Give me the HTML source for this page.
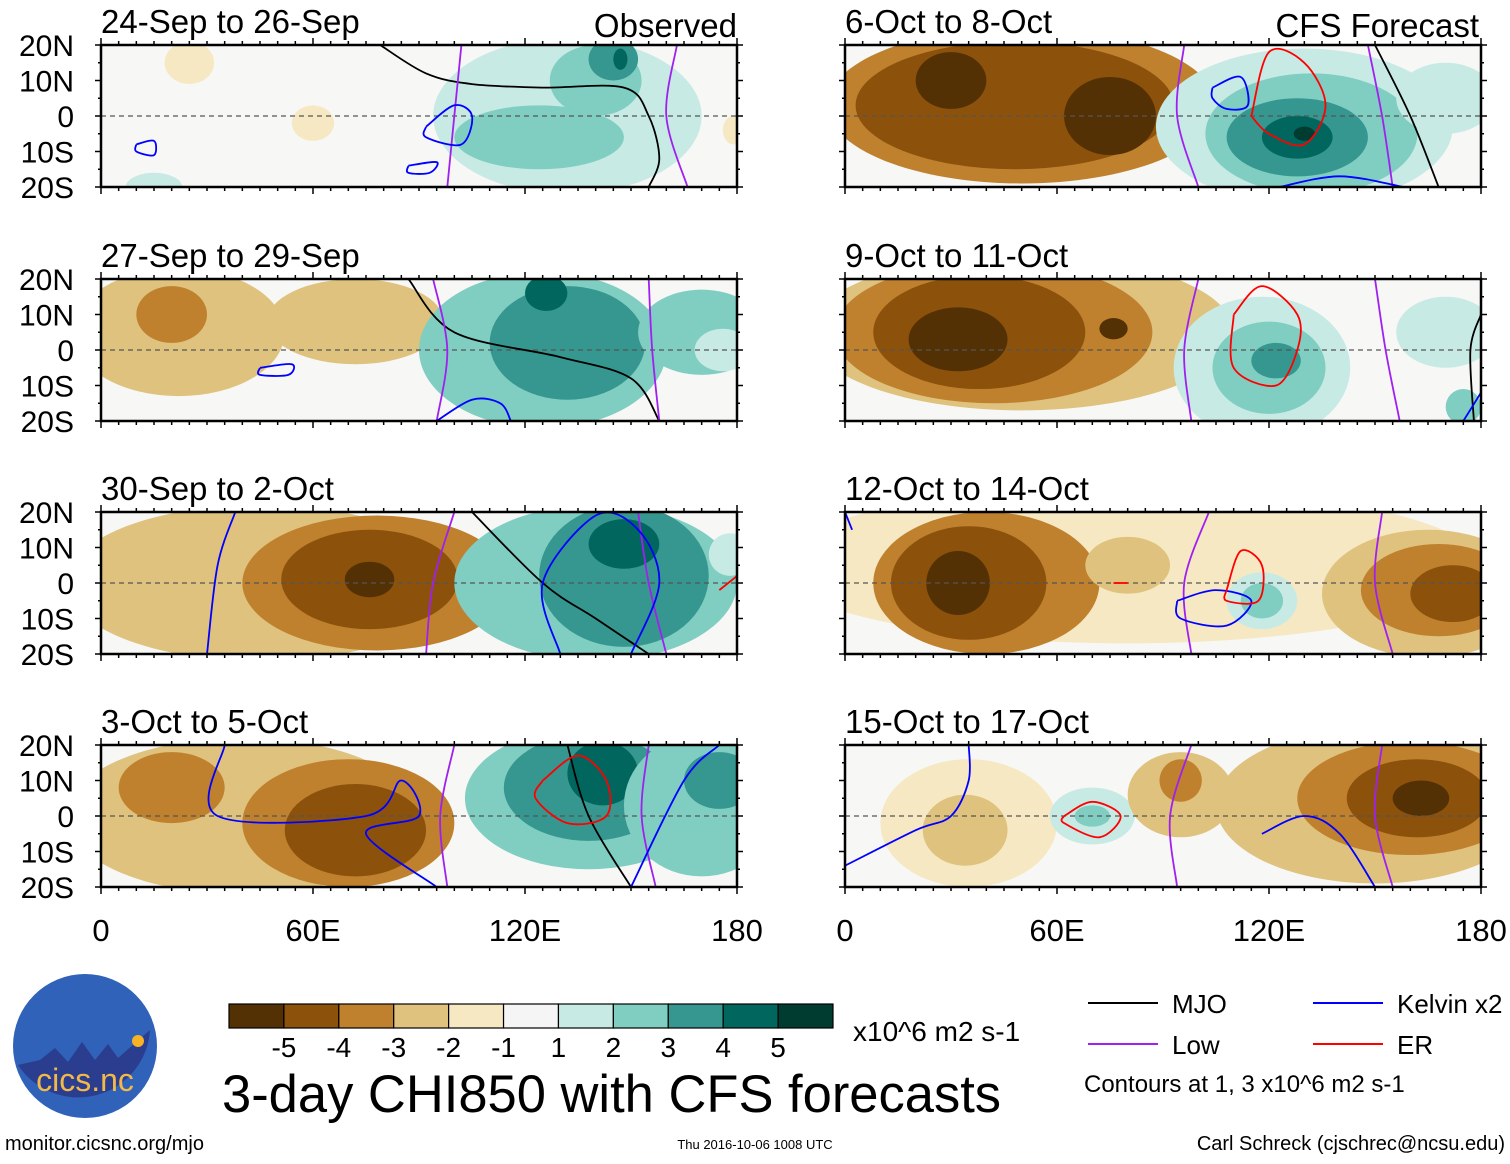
<!DOCTYPE html>
<html><head><meta charset="utf-8">
<style>
html,body{margin:0;padding:0;background:#fff;}
body{width:1510px;height:1159px;overflow:hidden;font-family:"Liberation Sans",Arial,sans-serif;}
svg text{font-family:"Liberation Sans",Arial,sans-serif;}
</style></head><body>
<svg id="chart" width="1510" height="1159" viewBox="0 0 1510 1159" xmlns="http://www.w3.org/2000/svg">
<defs></defs>
</svg>
<script>
// ---- data ----
const levelColors = ["#543005","#8c510a","#bf812d","#dfc27d","#f6e8c3","#f5f5f5","#c7eae5","#80cdc1","#35978f","#01665e","#003c30"];
const levelLabels = ["-5","-4","-3","-2","-1","1","2","3","4","5"];
const panelTitles = ["24-Sep to 26-Sep","27-Sep to 29-Sep","30-Sep to 2-Oct","3-Oct to 5-Oct","6-Oct to 8-Oct","9-Oct to 11-Oct","12-Oct to 14-Oct","15-Oct to 17-Oct"];
const latTicks = ["20N","10N","0","10S","20S"];
const lonTicks = ["0","60E","120E","180"];
// blobs: [lon, lat, rxDeg, ryDeg, amplitude]
const blobs1 = [[25,15,7,6,-1],[60,-2,6,5,-1],[132,0,38,22,1],[124,-6,24,9,2],[140,10,13,10,2],[145,16,7,6,3],[147,16,2,3,4],[15,-20,8,4,1],[179,-4,3,4,-1]];
const blobs2 = [[22,5,30,18,-2],[20,10,10,8,-3],[72,8,25,12,-2],[125,0,35,22,2],[132,2,22,16,3],[126,16,6,5,4],[170,5,18,12,2],[176,0,8,6,1]];
const blobs3 = [[45,0,55,22,-2],[78,0,38,19,-3],[76,1,25,14,-4],[76,1,7,5,-5],[140,0,40,22,2],[148,2,24,20,3],[148,11,10,7,4],[178,8,6,6,1]];
const blobs4 = [[40,0,50,22,-2],[20,8,15,10,-3],[70,-2,30,18,-3],[72,-4,20,13,-4],[138,5,35,20,2],[138,8,24,15,3],[142,12,10,9,4],[170,3,22,20,2],[175,10,10,8,3]];
const blobs5 = [[50,3,55,22,-3],[48,3,45,18,-4],[30,10,10,8,-5],[75,0,13,11,-5],[130,-3,42,22,1],[132,-5,30,17,2],[128,-6,20,11,3],[128,-6,10,6,4],[130,-5,3,2,5],[170,5,14,10,1]];
const blobs6 = [[50,5,60,22,-2],[42,5,45,20,-3],[38,5,30,16,-4],[32,3,14,9,-5],[76,6,4,3,-5],[118,-5,25,20,1],[120,-5,16,13,2],[122,-3,7,5,3],[170,5,14,10,1],[175,-16,5,5,2]];
const blobs7 = [[80,5,100,22,-1],[40,0,32,20,-3],[35,0,22,16,-4],[32,0,9,9,-5],[80,5,12,8,-2],[118,-5,10,8,1],[118,-5,6,5,2],[165,-3,30,18,-2],[168,-2,22,13,-3],[172,-3,12,8,-4]];
const blobs8 = [[35,-2,25,18,-1],[34,-4,12,10,-2],[70,0,12,8,1],[70,0,5,3,2],[95,6,15,12,-2],[95,10,6,6,-3],[150,3,45,22,-2],[160,5,32,16,-3],[162,5,20,11,-4],[163,5,8,5,-5]];
const allBlobs = [blobs1,blobs2,blobs3,blobs4,blobs5,blobs6,blobs7,blobs8];
// contour lines: [type, [[lon,lat],...]]
const lines1 = [["mjo",[[79,20],[92,12],[105,9],[125,8],[148,8],[155,0],[158,-12],[155,-20]]],["low",[[102,20],[100,0],[98,-20]]],["low",[[163,20],[160,0],[166,-20]]],["kelvin",[[92,-3],[100,3],[105,0],[102,-8],[92,-6],[92,-3]]],["kelvin",[[87,-14],[95,-13],[93,-16],[87,-16],[87,-14]]],["kelvin",[[10,-8],[15,-7],[15,-11],[10,-10],[10,-8]]]];
const lines2 = [["mjo",[[87,20],[100,5],[130,-2],[150,-8],[158,-20]]],["low",[[94,20],[98,0],[95,-20]]],["low",[[155,20],[156,0],[158,-20]]],["kelvin",[[95,-20],[105,-14],[113,-15],[116,-20]]],["kelvin",[[45,-5],[54,-4],[53,-7],[45,-7],[45,-5]]]];
const lines3 = [["mjo",[[105,20],[125,0],[140,-10],[155,-20]]],["low",[[100,20],[94,0],[92,-20]]],["low",[[152,20],[155,0],[160,-20]]],["kelvin",[[38,20],[33,5],[30,-20]]],["kelvin",[[130,-20],[125,0],[140,19],[152,15],[158,0],[150,-20]]],["er",[[175,-2],[180,2]]]];
const lines4 = [["mjo",[[132,20],[138,0],[150,-20]]],["low",[[100,20],[96,0],[98,-20]]],["low",[[155,20],[153,0],[157,-20]]],["kelvin",[[35,20],[33,0],[75,0],[85,10],[90,0],[75,-5],[95,-20]]],["kelvin",[[150,-20],[165,10],[175,20]]],["er",[[125,10],[135,17],[143,10],[143,0],[132,-2],[123,5],[125,10]]]];
const lines5 = [["mjo",[[150,20],[160,0],[168,-20]]],["low",[[96,20],[94,0],[100,-20]]],["low",[[148,20],[152,0],[155,-20]]],["kelvin",[[104,8],[112,11],[114,3],[108,2],[104,5],[104,8]]],["kelvin",[[123,-20],[140,-17],[158,-20]]],["er",[[115,0],[120,18],[130,15],[136,3],[130,-8],[120,-5],[115,0]]]];
const lines6 = [["mjo",[[180,10],[177,0],[178,-20]]],["low",[[100,20],[96,0],[98,-20]]],["low",[[150,20],[153,0],[157,-20]]],["kelvin",[[175,-20],[180,-12]]],["er",[[110,10],[118,18],[128,10],[128,0],[122,-10],[110,-5],[110,10]]]];
const lines7 = [["low",[[103,20],[96,0],[98,-20]]],["low",[[152,20],[150,0],[155,-20]]],["kelvin",[[94,-5],[105,-2],[115,-5],[108,-12],[95,-10],[94,-5]]],["kelvin",[[0,20],[2,15]]],["er",[[108,-2],[112,9],[118,5],[117,-5],[108,-5],[108,-2]]],["er",[[76,0],[80,0]]]];
const lines8 = [["low",[[98,20],[92,0],[94,-20]]],["low",[[152,20],[150,0],[155,-20]]],["kelvin",[[0,-14],[20,-4],[30,0],[35,10],[35,20]]],["kelvin",[[118,-5],[130,0],[140,-5],[150,-20]]],["er",[[62,0],[70,4],[78,0],[72,-6],[62,-2],[62,0]]]];
const allLines = [lines1,lines2,lines3,lines4,lines5,lines6,lines7,lines8];
const lineColors = {mjo:"#000",low:"#a020f0",kelvin:"#0000ff",er:"#ff0000"};

// ---- layout ----
const svg = document.getElementById('chart');
const NS = "http://www.w3.org/2000/svg";
function mk(tag, attrs, parent){const e=document.createElementNS(NS,tag);for(const k in attrs)e.setAttribute(k,attrs[k]);(parent||svg).appendChild(e);return e;}
const colX = [101, 845];
const rowY = [45, 279, 512, 745];
const PW = 636, PH = 142;
function xScale(p, lon){return p.x + lon/180*PW;}
function yScale(p, lat){return p.y + (20-lat)/40*PH;}
function colorFor(a){return levelColors[5+a];}
function smoothPath(pts){
  let d='M'+pts[0][0].toFixed(1)+','+pts[0][1].toFixed(1);
  for(let i=0;i<pts.length-1;i++){
    const p0=pts[Math.max(i-1,0)],p1=pts[i],p2=pts[i+1],p3=pts[Math.min(i+2,pts.length-1)];
    const c1=[p1[0]+(p2[0]-p0[0])/6,p1[1]+(p2[1]-p0[1])/6];
    const c2=[p2[0]-(p3[0]-p1[0])/6,p2[1]-(p3[1]-p1[1])/6];
    d+=' C'+c1[0].toFixed(1)+','+c1[1].toFixed(1)+' '+c2[0].toFixed(1)+','+c2[1].toFixed(1)+' '+p2[0].toFixed(1)+','+p2[1].toFixed(1);
  }
  return d;
}
const defs = svg.querySelector('defs');

for(let i=0;i<8;i++){
  const p = {x: colX[Math.floor(i/4)], y: rowY[i%4]};
  const g = mk('g',{});
  
  
  const cp = mk('clipPath',{id:'cp'+i},defs);
  mk('rect',{x:p.x,y:p.y,width:PW,height:PH},cp);
  const fg = mk('g',{'clip-path':'url(#cp'+i+')'},g);
  mk('rect',{x:p.x,y:p.y,width:PW,height:PH,fill:"#f7f7f5"},fg);
  allBlobs[i].forEach(b=>{
    const [lon,lat,rx,ry,amp]=b;
    const e = mk('ellipse',{cx:xScale(p,lon),cy:yScale(p,lat),rx:rx/180*PW,ry:ry/40*PH,fill:colorFor(amp)},fg);
    
    
  });
  mk('line',{x1:p.x,x2:p.x+PW,y1:yScale(p,0),y2:yScale(p,0),stroke:"#555",'stroke-width':1.2,'stroke-dasharray':'5,4'},fg);
  allLines[i].forEach(l=>{
    const pts = l[1].map(q=>[xScale(p,q[0]),yScale(p,q[1])]);
    const pl = mk('path',{d:smoothPath(pts),fill:'none',stroke:lineColors[l[0]],'stroke-width':1.8,'stroke-linejoin':'round'},fg);
    
    
  });
  mk('rect',{x:p.x,y:p.y,width:PW,height:PH,fill:'none',stroke:'#000','stroke-width':2.5},g);
  for(let k=0;k<=36;k++){
    const tx=p.x+k*PW/36, len=(k%12===0)?7:4;
    mk('line',{x1:tx,x2:tx,y1:p.y,y2:p.y-len,stroke:'#000','stroke-width':1.5},g);
    mk('line',{x1:tx,x2:tx,y1:p.y+PH,y2:p.y+PH+len,stroke:'#000','stroke-width':1.5},g);
  }
  for(let k=0;k<=8;k++){
    const ty=p.y+k*PH/8, len=(k%2===0)?6:3;
    mk('line',{x1:p.x,x2:p.x-len,y1:ty,y2:ty,stroke:'#000','stroke-width':1.5},g);
    mk('line',{x1:p.x+PW,x2:p.x+PW+len,y1:ty,y2:ty,stroke:'#000','stroke-width':1.5},g);
  }
  const t = mk('text',{x:p.x,y:p.y-12,'font-size':33,fill:'#000'},g);
  t.textContent = panelTitles[i];
  
  
  if(i<4){
    latTicks.forEach((s,k)=>{
      const tt=mk('text',{x:74,y:p.y+k*PH/4+11,'font-size':30,'text-anchor':'end'},g);
      tt.textContent=s;
      
      
    });
  }
  if(i%4===3){
    lonTicks.forEach((s,k)=>{
      const tt=mk('text',{x:p.x+k*PW/3,y:941,'font-size':31,'text-anchor':'middle'},g);
      tt.textContent=s;
      
      
    });
  }
}
function txt(x,y,s,size,name,anchor){const t=mk('text',{x:x,y:y,'font-size':size,'text-anchor':anchor||'start'});t.textContent=s;return t;}
txt(737,37,"Observed",33,"observed-label","end");
txt(1479,37,"CFS Forecast",33,"forecast-label","end");
const cb = mk('g',{});


const cbw = (833-229)/11;
levelColors.forEach((c,k)=>{
  mk('rect',{x:229+k*cbw,y:1004,width:cbw,height:24,fill:c,stroke:'#000','stroke-width':1.2},cb);
});
levelLabels.forEach((s,k)=>{
  const tt=mk('text',{x:229+(k+1)*cbw,y:1057,'font-size':28,'text-anchor':'middle'},cb);
  tt.textContent=s;
  
  
});
txt(853,1041,"x10^6 m2 s-1",28,"colorbar-units");
txt(222,1112,"3-day CHI850 with CFS forecasts",52.5,"chart-title");
const lg = mk('g',{});


[["mjo","MJO",1088,1003],["low","Low",1088,1044],["kelvin","Kelvin x2",1313,1003],["er","ER",1313,1044]].forEach(e=>{
  mk('line',{x1:e[2],x2:e[2]+70,y1:e[3],y2:e[3],stroke:lineColors[e[0]],'stroke-width':2},lg);
  const tt=mk('text',{x:e[2]+84,y:e[3]+10,'font-size':26},lg);
  tt.textContent=e[1];
  
  
});
txt(1084,1092,"Contours at 1, 3 x10^6 m2 s-1",24,"contour-note");
txt(5,1150,"monitor.cicsnc.org/mjo",20,"source-url");
txt(755,1149,"Thu 2016-10-06 1008 UTC",13,"timestamp","middle");
txt(1505,1150,"Carl Schreck (cjschrec@ncsu.edu)",20,"author-credit","end");
const lo = mk('g',{});


mk('circle',{cx:85,cy:1046,r:72,fill:'#2f62b8'},lo);
mk('path',{d:'M18,1065 L40,1060 L55,1048 L68,1062 L82,1042 L95,1060 L108,1044 L118,1058 L150,1030 A72,72 0 0 1 18,1065 Z',fill:'#2a3d8f'},lo);
mk('circle',{cx:138,cy:1041,r:6,fill:'#f8b325'},lo);
const lt = mk('text',{x:85,y:1091,'font-size':32,'text-anchor':'middle',fill:'#f1b84a'},lo);
lt.textContent='cics.nc';


</script>
</body></html>
